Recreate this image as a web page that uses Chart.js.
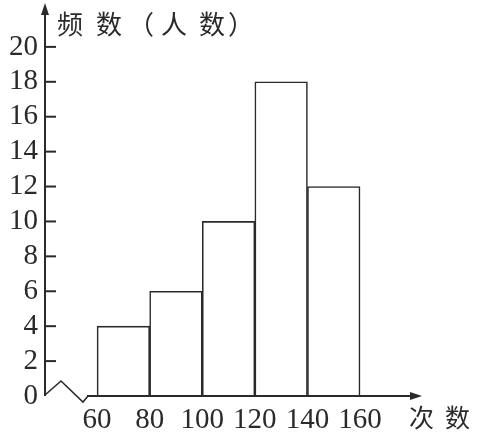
<!DOCTYPE html>
<html>
<head>
<meta charset="utf-8">
<script src="https://cdn.jsdelivr.net/npm/chart.js@4"></script>
<style>
  html, body { margin: 0; padding: 0; background: #fff; }
  #wrap { width: 478px; height: 436px; }
</style>
</head>
<body>
<div id="wrap"><canvas id="c" width="478" height="436"></canvas></div>
<script>
'use strict';

// histogram data
var binEdges   = [60, 80, 100, 120, 140, 160];
var binCenters = [70, 90, 110, 130, 150];
var counts     = [4, 6, 10, 18, 12];
var yTicks     = [0, 2, 4, 6, 8, 10, 12, 14, 16, 18, 20];

var INK = '#2a2a2a';
var NUM_FONT = { family: '"Liberation Serif", "DejaVu Serif", serif', size: 29 };
var CJK = '"Noto Sans CJK SC", sans-serif';

// axes, arrows, axis break and titles
var decor = {
  id: 'decor',
  afterDraw: function (chart) {
    var ctx = chart.ctx, a = chart.chartArea;
    var L = a.left, B = a.bottom;
    ctx.save();
    ctx.strokeStyle = INK;
    ctx.fillStyle = INK;
    ctx.lineWidth = 2;

    // y axis + arrow
    ctx.beginPath();
    ctx.moveTo(L, B); ctx.lineTo(L, a.top + 6); ctx.stroke();
    ctx.beginPath();
    ctx.moveTo(L, a.top - 2); ctx.lineTo(L - 4, a.top + 10); ctx.lineTo(L + 4, a.top + 10); ctx.closePath(); ctx.fill();

    // inward tick marks
    var ys = chart.scales.y;
    yTicks.forEach(function (v) {
      if (v === 0) return;
      var py = ys.getPixelForValue(v);
      ctx.beginPath(); ctx.moveTo(L, py); ctx.lineTo(L + 11, py); ctx.stroke();
    });

    // axis break zigzag
    ctx.lineWidth = 1.6;
    ctx.beginPath();
    ctx.moveTo(L, B - 1);
    ctx.lineTo(L + 16, B - 15);
    ctx.lineTo(L + 38, B + 6);
    ctx.lineTo(L + 43, B);
    ctx.stroke();

    // x axis + arrow
    ctx.lineWidth = 2;
    ctx.beginPath();
    ctx.moveTo(L + 42, B); ctx.lineTo(a.right - 6, B); ctx.stroke();
    ctx.beginPath();
    ctx.moveTo(a.right + 2, B); ctx.lineTo(a.right - 10, B - 4); ctx.lineTo(a.right - 10, B + 4); ctx.closePath(); ctx.fill();

    // titles
    ctx.font = '26px ' + CJK;
    ctx.textBaseline = 'middle';
    ctx.textAlign = 'left';
    var title = ['频', '数', '（', '人', '数', '）'];
    var tx = [57, 96, 128, 161, 199, 228];
    title.forEach(function (ch, i) { ctx.fillText(ch, tx[i], 24); });
    ctx.font = '25px ' + CJK;
    ctx.fillText('次', 409, 417);
    ctx.fillText('数', 445, 417);
    ctx.restore();
  }
};

new Chart(document.getElementById('c'), {
  type: 'bar',
  data: {
    datasets: [{
      data: binCenters.map(function (x, i) { return { x: x, y: counts[i] }; }),
      backgroundColor: '#ffffff',
      borderColor: INK,
      borderWidth: 1.6,
      barPercentage: 1,
      categoryPercentage: 1
    }]
  },
  options: {
    responsive: false,
    animation: false,
    layout: { padding: { top: 5, right: 58, left: 0, bottom: 0 } },
    plugins: { legend: { display: false }, tooltip: { enabled: false } },
    scales: {
      x: {
        type: 'linear',
        offset: false,
        min: 40.2,
        max: 182.8,
        afterBuildTicks: function (s) { s.ticks = binEdges.map(function (v) { return { value: v }; }); },
        afterFit: function (s) { s.height = 40; s.paddingLeft = 0; s.paddingRight = 0; },
        border: { display: false },
        grid: { display: false, drawTicks: false, offset: false },
        ticks: { color: INK, font: NUM_FONT, padding: 7, maxRotation: 0, autoSkip: false,
                 callback: function (v) { return String(v); } }
      },
      y: {
        min: 0,
        max: 22.4,
        afterBuildTicks: function (s) { s.ticks = yTicks.map(function (v) { return { value: v }; }); },
        afterFit: function (s) { s.width = 45; s.paddingTop = 0; s.paddingBottom = 0; },
        border: { display: false },
        grid: { display: false, drawTicks: false },
        ticks: { color: INK, font: NUM_FONT, padding: 7,
                 callback: function (v) { return String(v); } }
      }
    }
  },
  plugins: [decor]
});
</script>
</body>
</html>
